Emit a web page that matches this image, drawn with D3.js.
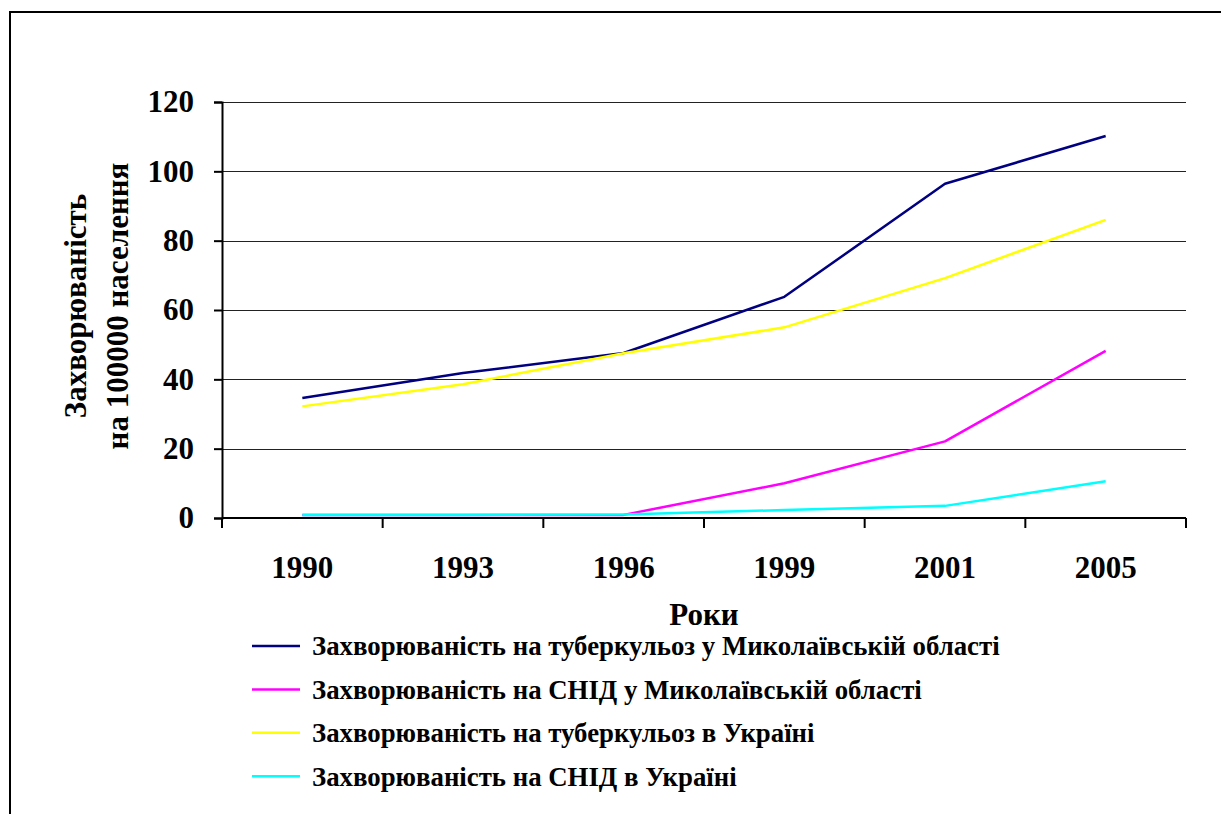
<!DOCTYPE html>
<html>
<head>
<meta charset="utf-8">
<script src="https://cdn.jsdelivr.net/npm/d3@7"></script>
<style>
  body { margin: 0; background: #fff; }
  text { font-family: "Liberation Serif", "DejaVu Serif", serif; font-weight: bold; }
</style>
</head>
<body>
<div id="chart"></div>
<script>
const years = ["1990", "1993", "1996", "1999", "2001", "2005"];
const tbMykolaiv = [34.6, 41.8, 47.6, 63.8, 96.4, 110.2];
const aidsMykolaiv = [0.9, 0.9, 0.9, 10, 22.1, 48.2];
const tbUkraine = [32.2, 38.6, 47.5, 55, 69.2, 86];
const aidsUkraine = [0.9, 0.9, 1.0, 2.3, 3.5, 10.6];
const seriesNames = [
  "Захворюваність на туберкульоз у Миколаївській області",
  "Захворюваність на СНІД у Миколаївській області",
  "Захворюваність на туберкульоз в Україні",
  "Захворюваність на СНІД в Україні"
];
const seriesColors = ["#000080", "#ff00ff", "#ffff00", "#00ffff"];
const yTicks = [0, 20, 40, 60, 80, 100, 120];

const series = [tbMykolaiv, aidsMykolaiv, tbUkraine, aidsUkraine].map((values, i) => ({
  name: seriesNames[i],
  color: seriesColors[i],
  values
}));

const width = 1221;
const height = 814;
const margin = {top: 102, right: 35, bottom: 296, left: 222};

const svg = d3.select("#chart").append("svg")
  .attr("width", width)
  .attr("height", height);

// outer frame (only left and top edges visible)
svg.append("rect")
  .attr("x", 10).attr("y", 12)
  .attr("width", width + 20).attr("height", height + 20)
  .attr("fill", "none")
  .attr("stroke", "#000")
  .attr("stroke-width", 2);

const x = d3.scaleBand()
  .domain(years)
  .range([margin.left, width - margin.right]);

const y = d3.scaleLinear()
  .domain([0, 120])
  .range([height - margin.bottom, margin.top]);

// gridlines
svg.append("g")
  .selectAll("line")
  .data(yTicks.filter(d => d > 0))
  .join("line")
  .attr("x1", margin.left)
  .attr("x2", width - margin.right)
  .attr("y1", d => Math.round(y(d)) + 0.5)
  .attr("y2", d => Math.round(y(d)) + 0.5)
  .attr("stroke", "#222")
  .attr("stroke-width", 1);

// y axis
const yAxis = svg.append("g")
  .attr("transform", `translate(${margin.left},0)`)
  .call(d3.axisLeft(y).tickValues(yTicks).tickSize(8).tickPadding(20));
yAxis.select(".domain").attr("stroke-width", 2);
yAxis.selectAll(".tick line").attr("stroke-width", 2);
yAxis.selectAll(".tick text")
  .attr("font-size", 31)
  .attr("fill", "#000");

// x axis: ticks between categories
const xAxisG = svg.append("g")
  .attr("transform", `translate(0,${y(0)})`);
xAxisG.append("line")
  .attr("x1", margin.left).attr("x2", width - margin.right)
  .attr("stroke", "#000").attr("stroke-width", 2);
xAxisG.selectAll(".xtick")
  .data(years.concat(["end"]))
  .join("line")
  .attr("class", "xtick")
  .attr("x1", (d, i) => i < years.length ? x(d) : x.range()[1])
  .attr("x2", (d, i) => i < years.length ? x(d) : x.range()[1])
  .attr("y1", 0).attr("y2", 10)
  .attr("stroke", "#000").attr("stroke-width", 2);
xAxisG.selectAll(".xlabel")
  .data(years)
  .join("text")
  .attr("class", "xlabel")
  .attr("x", d => x(d) + x.bandwidth() / 2)
  .attr("y", 60)
  .attr("text-anchor", "middle")
  .attr("font-size", 31)
  .text(d => d);

// lines
const line = d3.line()
  .x((d, i) => x(years[i]) + x.bandwidth() / 2)
  .y(d => y(d));

svg.append("g")
  .selectAll("path")
  .data(series)
  .join("path")
  .attr("d", d => line(d.values))
  .attr("fill", "none")
  .attr("stroke", d => d.color)
  .attr("stroke-width", 2.5)
  .attr("stroke-linejoin", "round");

// axis titles
svg.append("text")
  .attr("x", (margin.left + width - margin.right) / 2)
  .attr("y", 625)
  .attr("text-anchor", "middle")
  .attr("font-size", 31)
  .text("Роки");

const yTitle = svg.append("text")
  .attr("transform", "translate(86,306) rotate(-90)")
  .attr("text-anchor", "middle")
  .attr("font-size", 31);
yTitle.append("tspan").attr("x", 0).attr("dy", 0).text("Захворюваність");
yTitle.append("tspan").attr("x", 0).attr("dy", 42).text("на 100000 населення");

// legend
const legend = svg.append("g")
  .attr("transform", "translate(252,646)");
const rows = legend.selectAll("g")
  .data(series)
  .join("g")
  .attr("transform", (d, i) => `translate(0,${i * 43.4})`);
rows.append("line")
  .attr("x1", 0).attr("x2", 48)
  .attr("stroke", d => d.color)
  .attr("stroke-width", 2.5);
rows.append("text")
  .attr("x", 60)
  .attr("dy", "0.35em")
  .attr("font-size", 26.8)
  .text(d => d.name);
</script>
</body>
</html>
